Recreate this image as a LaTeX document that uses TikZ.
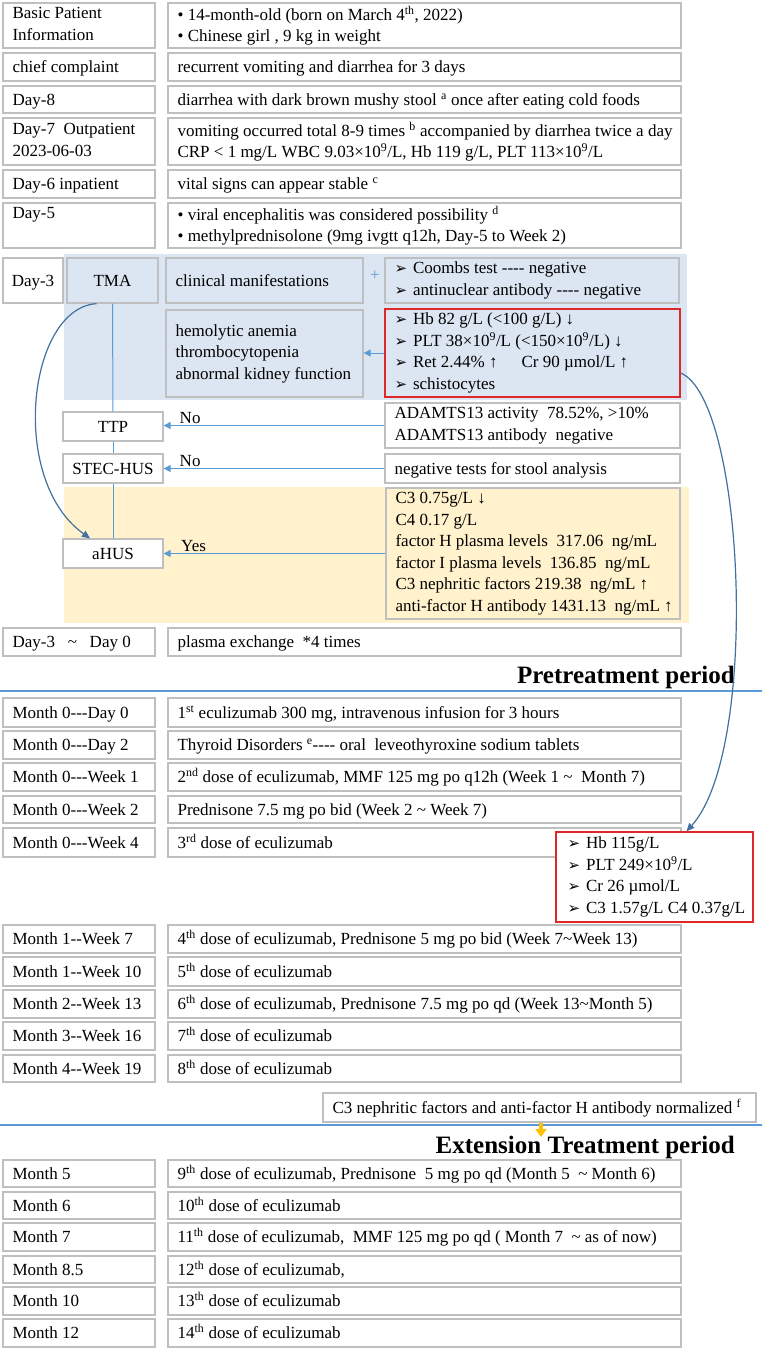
\documentclass[tikz,border=0pt]{standalone}
\usepackage{fontspec}
\setmainfont{Liberation Serif}[Ligatures=TeXOff]
\newfontfamily\dejavu{DejaVu Sans}
\usetikzlibrary{arrows.meta}
\definecolor{boxgray}{HTML}{BFBFBF}
\definecolor{bluebg}{HTML}{DCE6F2}
\definecolor{yellowbg}{HTML}{FFF2CC}
\definecolor{redc}{HTML}{E02828}
\definecolor{connblue}{HTML}{5B9BD5}
\definecolor{curveblue}{HTML}{41719C}
\definecolor{orangec}{HTML}{FFC000}
\newcommand\fs{\fontsize{17}{21.5}\selectfont}
\newcommand\arrb{{\dejavu\fontsize{15}{15}\selectfont ➢}\hspace{6pt}}
\newcommand\sq[1]{\textsuperscript{#1}}
% box with left-aligned text
\newcommand\bx[7][]{%
  \pgfmathsetmacro\bxw{#5-#3}%
  \pgfmathsetmacro\bxh{#6-#4}%
  \node[box,minimum width=\bxw pt,minimum height=\bxh pt,#1] (#2) at ({(#3+#5)/2},{(#4+#6)/2}) {};
  \node[txt,anchor=west] (#2-t) at ([xshift=10pt]#2.west) {#7};}
% box with centred text
\newcommand\cbx[7][]{%
  \pgfmathsetmacro\bxw{#5-#3}%
  \pgfmathsetmacro\bxh{#6-#4}%
  \node[box,minimum width=\bxw pt,minimum height=\bxh pt,#1] (#2) at ({(#3+#5)/2},{(#4+#6)/2}) {};
  \node[txt,align=center] (#2-t) at (#2.center) {#7};}
\begin{document}
\begin{tikzpicture}[x=1pt,y=-1pt,
  box/.style={draw=boxgray,line width=1.3pt,fill=white,inner sep=0pt},
  txt/.style={inner sep=0pt,align=left,font=\fs,yshift=-1.5pt,execute at begin node={\strut},execute at end node={\strut}},
  bluebox/.style={fill=bluebg},
  redbox/.style={draw=redc,line width=1.4pt},
  conn/.style={draw=connblue,line width=1pt,-{Triangle[length=7pt,width=7pt]}},
  plainconn/.style={draw=connblue,line width=1pt},
  curve/.style={draw=curveblue,line width=1.2pt,-{Triangle[length=8pt,width=7pt]}},
  lbl/.style={font=\fs,inner sep=1pt},
  titlef/.style={font=\fontsize{25}{30}\selectfont\bfseries,inner sep=0pt},
  sepline/.style={draw=connblue,line width=1.6pt},
  orangearr/.style={draw=orangec,line width=3.5pt,-{Triangle[length=8pt,width=11pt]}}]
\useasboundingbox[fill=white] (0,0) rectangle (762,1353);
% backgrounds
\fill[bluebg] (64,254) rectangle (687,400);
\fill[yellowbg] (64,487) rectangle (689,623);
% top rows
\bx{l1}{3}{3}{155}{48}{Basic Patient\\Information}
\bx{r1}{168}{3}{681}{48}{• 14-month-old (born on March 4\sq{th}, 2022)\\• Chinese girl , 9 kg in weight}
\bx{l2}{3}{53}{155}{81}{chief complaint}
\bx{r2}{168}{53}{681}{81}{recurrent vomiting and diarrhea for 3 days}
\bx{l3}{3}{86}{155}{113}{Day-8}
\bx{r3}{168}{86}{681}{113}{diarrhea with dark brown mushy stool \sq{a} once after eating cold foods}
\bx{l4}{3}{118}{155}{165}{Day-7\ \ Outpatient\\2023-06-03}
\bx{r4}{168}{118}{681}{165}{vomiting occurred total 8-9 times \sq{b} accompanied by diarrhea twice a day\\CRP < 1 mg/L WBC 9.03×10\sq{9}/L, Hb 119 g/L, PLT 113×10\sq{9}/L}
\bx{l5}{3}{170}{155}{198}{Day-6 inpatient}
\bx{r5}{168}{170}{681}{198}{vital signs can appear stable \sq{c}}
\bx{l6}{3}{203}{155}{248}{Day-5\\\mbox{}}
\bx{r6}{168}{203}{681}{248}{• viral encephalitis was considered possibility \sq{d}\\• methylprednisolone (9mg ivgtt q12h, Day-5 to Week 2)}
% Day-3 block
\cbx{d3}{3}{258}{63}{303}{Day-3}
\cbx[bluebox]{tma}{67}{258}{158}{303}{TMA}
\bx[bluebox]{clin}{166}{258}{363}{303}{clinical manifestations}
\node[font=\fs,text=connblue,inner sep=0pt] (plus) at (375,276) {+};
\bx[bluebox]{coombs}{385}{258}{679}{303}{\arrb Coombs test ---- negative\\\arrb antinuclear antibody ---- negative}
\bx[bluebox]{hem}{166}{310}{363}{397}{hemolytic anemia\\thrombocytopenia\\abnormal kidney function}
\bx[bluebox,redbox]{red1}{385}{309}{680}{397}{\arrb Hb 82 g/L (<100 g/L) ↓\\\arrb PLT 38×10\sq{9}/L (<150×10\sq{9}/L) ↓\\\arrb Ret 2.44\% ↑\hspace{24pt}Cr 90 µmol/L ↑\\\arrb schistocytes}
\cbx{ttp}{63}{412}{163}{441}{TTP}
\bx{adam}{385}{403}{680}{448}{ADAMTS13 activity\ \ 78.52\%, >10\%\\ADAMTS13 antibody\ \ negative}
\cbx{stec}{63}{454}{163}{483}{STEC-HUS}
\bx{neg}{385}{454}{680}{483}{negative tests for stool analysis}
\cbx{ahus}{63}{539}{163}{568}{aHUS}
\bx[fill=yellowbg]{c3}{386}{488}{680}{619}{C3 0.75g/L ↓\\C4 0.17 g/L\\factor H plasma levels\ \ 317.06\ \ ng/mL\\factor I plasma levels\ \ 136.85\ \ ng/mL\\C3 nephritic factors 219.38\ \ ng/mL ↑\\anti-factor H antibody 1431.13\ \ ng/mL ↑}
\bx{lpe}{3}{628}{155}{656}{Day-3\ \ \ \textasciitilde\ \ \ Day 0}
\bx{rpe}{168}{628}{681}{656}{plasma exchange\ \ *4 times}
% pretreatment
\node[titlef,anchor=base east] (pt) at (735,683) {Pretreatment period};
\draw[sepline] (0,691) -- (762,691);
\bx{m1}{3}{698}{155}{727}{Month 0---Day 0}
\bx{n1}{168}{698}{681}{727}{1\sq{st} eculizumab 300 mg, intravenous infusion for 3 hours}
\bx{m2}{3}{731}{155}{759}{Month 0---Day 2}
\bx{n2}{168}{731}{681}{759}{Thyroid Disorders \sq{e}---- oral\ \ leveothyroxine sodium tablets}
\bx{m3}{3}{763}{155}{791}{Month 0---Week 1}
\bx{n3}{168}{763}{681}{791}{2\sq{nd} dose of eculizumab, MMF 125 mg po q12h (Week 1 \textasciitilde\ \ Month 7)}
\bx{m4}{3}{796}{155}{823}{Month 0---Week 2}
\bx{n4}{168}{796}{681}{823}{Prednisone 7.5 mg po bid (Week 2 \textasciitilde\ Week 7)}
\bx{m5}{3}{828}{155}{857}{Month 0---Week 4}
\bx{n5}{168}{828}{681}{857}{3\sq{rd} dose of eculizumab}
\node[box,redbox,minimum width=197pt,minimum height=90pt] (red2) at (654.5,877) {};
\node[txt,anchor=west] (red2-t) at ([xshift=12pt]red2.west) {\arrb Hb 115g/L\\\arrb PLT 249×10\sq{9}/L\\\arrb Cr 26 µmol/L\\\arrb C3 1.57g/L\ C4 0.37g/L};
\bx{m6}{3}{925}{155}{953}{Month 1--Week 7}
\bx{n6}{168}{925}{681}{953}{4\sq{th}\ dose of eculizumab, Prednisone 5 mg po bid (Week 7\textasciitilde Week 13)}
\bx{m7}{3}{957}{155}{986}{Month 1--Week 10}
\bx{n7}{168}{957}{681}{986}{5\sq{th}\ dose of eculizumab}
\bx{m8}{3}{990}{155}{1018}{Month 2--Week 13}
\bx{n8}{168}{990}{681}{1018}{6\sq{th} dose of eculizumab, Prednisone 7.5 mg po qd (Week 13\textasciitilde Month 5)}
\bx{m9}{3}{1022}{155}{1050}{Month 3--Week 16}
\bx{n9}{168}{1022}{681}{1050}{7\sq{th} dose of eculizumab}
\bx{m10}{3}{1055}{155}{1082}{Month 4--Week 19}
\bx{n10}{168}{1055}{681}{1082}{8\sq{th} dose of eculizumab}
\bx{norm}{323}{1093}{756}{1122}{C3 nephritic factors and anti-factor H antibody normalized \sq{f}}
% extension
\draw[sepline] (0,1125) -- (762,1125);
\node[titlef,anchor=base east] (et) at (735,1153) {Extension Treatment period};
\bx{e1}{3}{1160}{155}{1187}{Month 5}
\bx{f1}{168}{1160}{681}{1187}{9\sq{th} dose of eculizumab, Prednisone\ \ 5 mg po qd (Month 5\ \ \textasciitilde\ Month 6)}
\bx{e2}{3}{1192}{155}{1219}{Month 6}
\bx{f2}{168}{1192}{681}{1219}{10\sq{th} dose of eculizumab}
\bx{e3}{3}{1223}{155}{1251}{Month 7}
\bx{f3}{168}{1223}{681}{1251}{11\sq{th} dose of eculizumab,\ \ MMF 125 mg po qd ( Month 7\ \ \textasciitilde\ as of now)}
\bx{e4}{3}{1256}{155}{1283}{Month 8.5}
\bx{f4}{168}{1256}{681}{1283}{12\sq{th} dose of eculizumab,}
\bx{e5}{3}{1287}{155}{1315}{Month 10}
\bx{f5}{168}{1287}{681}{1315}{13\sq{th} dose of eculizumab}
\bx{e6}{3}{1319}{155}{1347}{Month 12}
\bx{f6}{168}{1319}{681}{1347}{14\sq{th} dose of eculizumab}
% connectors
\draw[conn] (red1.west) -- (red1.west -| hem.east);
\draw[plainconn] (tma.south) -- (ttp.north);
\draw[plainconn] (ttp.south) -- (stec.north);
\draw[plainconn] (stec.south) -- (ahus.north);
\draw[conn] (adam.west) -- (adam.west -| ttp.east) node[lbl,pos=0.88,above] {No};
\draw[conn] (neg.west) -- (neg.west -| stec.east) node[lbl,pos=0.88,above] {No};
\draw[conn] (c3.west |- ahus.east) -- (ahus.east) node[lbl,pos=0.865,above] {Yes};
\draw[curve] ([xshift=-16pt]tma.south) .. controls (28,308) and (8,480) .. ([xshift=-23pt]ahus.north);
\draw[curve] ([yshift=-20pt]red1.east) .. controls (745,400) and (760,750) .. ([xshift=32pt]red2.north);
\coordinate (oend) at (541,1137);
\draw[orangearr] (norm.south -| oend) -- (oend);
\end{tikzpicture}
\end{document}
